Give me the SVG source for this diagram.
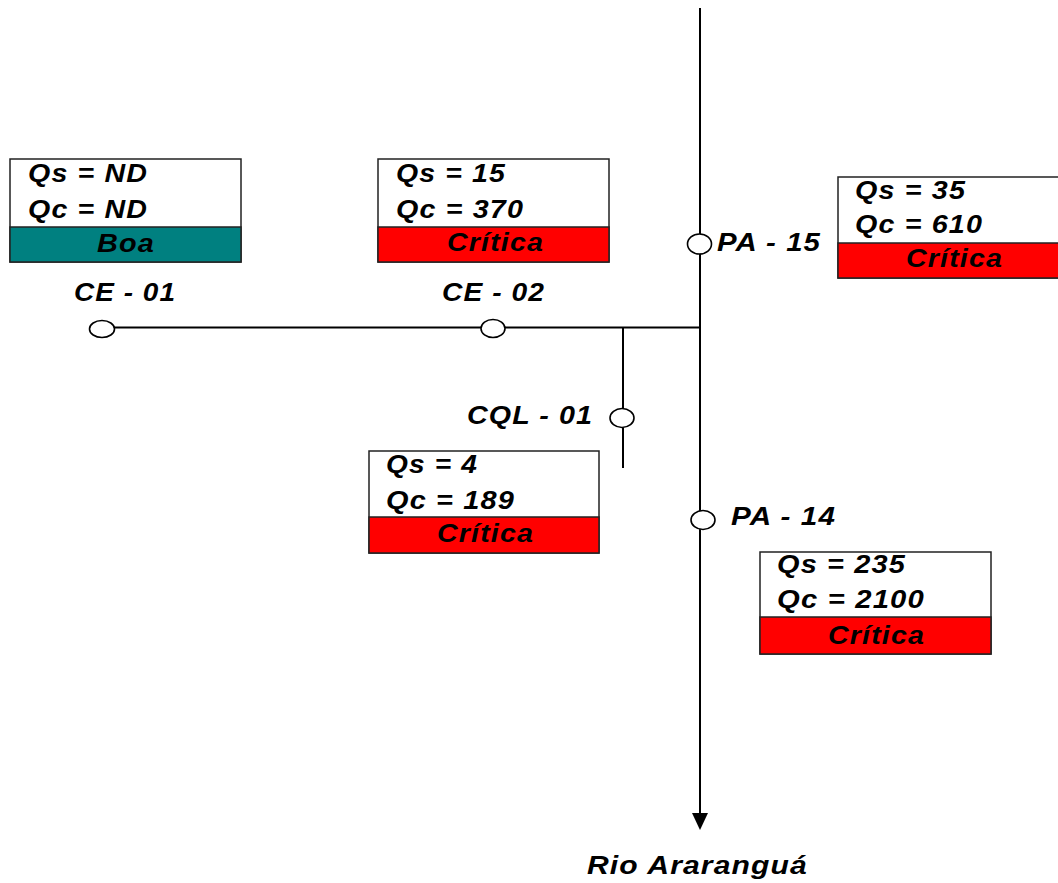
<svg xmlns="http://www.w3.org/2000/svg" width="1058" height="883" viewBox="0 0 1058 883">
  <style>
    .box { fill: #ffffff; stroke: #222222; stroke-width: 1.5; }
    .good { fill: #008080; stroke: #222222; stroke-width: 1.5; }
    .bad { fill: #ff0000; stroke: #222222; stroke-width: 1.5; }
    .t { font-family: "Liberation Sans", Arial, sans-serif; font-weight: bold; font-style: italic; font-size: 25px; fill: #000000; letter-spacing: 1px; }
    .lbl { font-family: "Liberation Sans", Arial, sans-serif; font-weight: bold; font-style: italic; font-size: 26.5px; fill: #000000; letter-spacing: 1px; }
    .wire { fill: none; stroke: #000000; stroke-width: 2; }
    .pt { fill: #ffffff; stroke: #000000; stroke-width: 1.6; }
  </style>
  <rect width="1058" height="883" fill="#ffffff"/>

  <!-- river network -->
  <g id="connectors">
    <line class="wire" x1="700" y1="8" x2="700" y2="815"/>
    <polygon points="692,813 708,813 700,830" fill="#000000"/>
    <line class="wire" x1="114" y1="327.5" x2="700" y2="327.5"/>
    <line class="wire" x1="623" y1="327.5" x2="623" y2="468"/>
  </g>

  <!-- CE - 01 -->
  <g id="ce01">
    <ellipse class="pt" cx="102" cy="329" rx="12.5" ry="8.5"/>
    <text class="lbl" x="74" y="301" textLength="102" lengthAdjust="spacingAndGlyphs">CE - 01</text>
    <rect class="box" x="10" y="159" width="231" height="103"/>
    <rect class="good" x="10" y="227" width="231" height="35"/>
    <text class="t" x="28" y="182" textLength="120" lengthAdjust="spacingAndGlyphs">Qs = ND</text>
    <text class="t" x="28" y="218" textLength="120" lengthAdjust="spacingAndGlyphs">Qc = ND</text>
    <text class="t" x="97" y="252" textLength="58" lengthAdjust="spacingAndGlyphs">Boa</text>
  </g>

  <!-- CE - 02 -->
  <g id="ce02">
    <ellipse class="pt" cx="493" cy="328.5" rx="12" ry="9"/>
    <text class="lbl" x="442" y="300.7" textLength="103" lengthAdjust="spacingAndGlyphs">CE - 02</text>
    <rect class="box" x="378" y="159" width="231" height="103"/>
    <rect class="bad" x="378" y="227" width="231" height="35"/>
    <text class="t" x="396" y="182" textLength="110" lengthAdjust="spacingAndGlyphs">Qs = 15</text>
    <text class="t" x="396" y="218" textLength="128" lengthAdjust="spacingAndGlyphs">Qc = 370</text>
    <text class="t" x="447" y="251" textLength="97" lengthAdjust="spacingAndGlyphs">Crítica</text>
  </g>

  <!-- CQL - 01 -->
  <g id="cql01">
    <ellipse class="pt" cx="622" cy="418" rx="12" ry="9.5"/>
    <text class="lbl" x="467" y="424" textLength="126" lengthAdjust="spacingAndGlyphs">CQL - 01</text>
    <rect class="box" x="369" y="451" width="230" height="102"/>
    <rect class="bad" x="369" y="517" width="230" height="36"/>
    <text class="t" x="386" y="473" textLength="92" lengthAdjust="spacingAndGlyphs">Qs = 4</text>
    <text class="t" x="386" y="508.5" textLength="129" lengthAdjust="spacingAndGlyphs">Qc = 189</text>
    <text class="t" x="437" y="542" textLength="97" lengthAdjust="spacingAndGlyphs">Crítica</text>
  </g>

  <!-- PA - 15 -->
  <g id="pa15">
    <ellipse class="pt" cx="699.5" cy="244" rx="12" ry="10"/>
    <text class="lbl" x="717" y="250.7" textLength="104" lengthAdjust="spacingAndGlyphs">PA - 15</text>
    <rect class="box" x="838" y="177" width="231" height="101"/>
    <rect class="bad" x="838" y="243" width="231" height="35"/>
    <text class="t" x="855" y="199.3" textLength="111" lengthAdjust="spacingAndGlyphs">Qs = 35</text>
    <text class="t" x="855" y="232.7" textLength="128" lengthAdjust="spacingAndGlyphs">Qc = 610</text>
    <text class="t" x="906" y="267" textLength="97" lengthAdjust="spacingAndGlyphs">Crítica</text>
  </g>

  <!-- PA - 14 -->
  <g id="pa14">
    <ellipse class="pt" cx="703" cy="520" rx="12" ry="9.5"/>
    <text class="lbl" x="731" y="525" textLength="105" lengthAdjust="spacingAndGlyphs">PA - 14</text>
    <rect class="box" x="760" y="552" width="231" height="102"/>
    <rect class="bad" x="760" y="617" width="231" height="37"/>
    <text class="t" x="777" y="572.7" textLength="129" lengthAdjust="spacingAndGlyphs">Qs = 235</text>
    <text class="t" x="777" y="608.3" textLength="148" lengthAdjust="spacingAndGlyphs">Qc = 2100</text>
    <text class="t" x="828" y="643.5" textLength="97" lengthAdjust="spacingAndGlyphs">Crítica</text>
  </g>

  <!-- outlet -->
  <g id="rio">
    <text class="lbl" x="587" y="873.5" font-size="24" textLength="221" lengthAdjust="spacingAndGlyphs">Rio Araranguá</text>
  </g>
</svg>
